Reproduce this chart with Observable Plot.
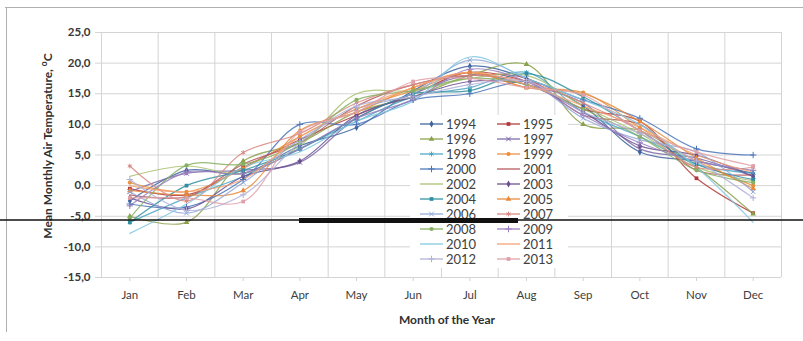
<!DOCTYPE html>
<html>
<head>
<meta charset="utf-8">
<script src="https://cdn.jsdelivr.net/npm/d3@7"></script>
<script src="https://cdn.jsdelivr.net/npm/@observablehq/plot@0.6"></script>
<style>
  html, body { margin: 0; padding: 0; background: #fff; }
  #wrap { position: relative; width: 803px; height: 341px; overflow: hidden; }
  #wrap svg { position: absolute; left: 0; top: 0; }
</style>
</head>
<body>
<div id="wrap"></div>
<script>
const months = ["Jan","Feb","Mar","Apr","May","Jun","Jul","Aug","Sep","Oct","Nov","Dec"];
const years = [1994,1995,1996,1997,1998,1999,2000,2001,2002,2003,2004,2005,2006,2007,2008,2009,2010,2011,2012,2013];
const yTicks = [-15,-10,-5,0,5,10,15,20,25];

const t1994 = [-2.5, 2.5, 2.0, 6.5, 9.5, 15.5, 19.5, 17.5, 13.0, 5.5, 4.0, 2.0];
const t1995 = [-0.5, -1.5, 3.0, 7.5, 11.5, 15.0, 18.5, 17.0, 12.5, 10.5, 1.2, -4.5];
const t1996 = [-5.0, -6.0, 4.0, 7.0, 12.0, 14.5, 18.0, 19.8, 10.0, 9.0, 3.0, -4.6];
const t1997 = [-1.0, 2.0, 2.5, 3.8, 11.0, 15.0, 18.0, 16.5, 13.5, 6.0, 4.5, 1.5];
const t1998 = [-6.0, -2.0, 1.5, 6.0, 10.5, 14.5, 16.0, 18.5, 12.0, 8.0, 3.5, 2.0];
const t1999 = [0.5, -1.0, 2.8, 8.0, 12.5, 15.5, 18.5, 16.0, 15.2, 9.5, 4.0, 0.0];
const t2000 = [-3.0, -3.5, 1.0, 10.0, 10.0, 14.0, 15.0, 17.0, 14.0, 11.0, 6.0, 5.0];
const t2001 = [-1.5, -1.8, 3.5, 7.0, 13.0, 16.5, 18.0, 17.5, 11.5, 10.0, 2.5, 1.8];
const t2002 = [1.5, 3.2, 2.0, 6.5, 15.0, 15.5, 17.5, 18.0, 13.0, 8.5, 3.0, 0.8];
const t2003 = [-2.0, -3.8, 1.5, 4.0, 11.5, 14.5, 17.0, 16.5, 12.0, 6.5, 5.0, 1.5];
const t2004 = [-6.0, 0.0, 2.5, 6.0, 11.0, 15.0, 15.5, 18.3, 14.5, 9.0, 3.5, 1.0];
const t2005 = [-0.8, -1.5, -0.8, 9.0, 12.0, 16.0, 18.5, 16.0, 15.0, 10.5, 4.5, -0.5];
const t2006 = [-1.0, -4.5, 0.5, 7.5, 12.5, 15.0, 20.5, 17.5, 11.0, 7.5, 5.5, -1.0];
const t2007 = [3.2, -2.5, 5.4, 8.5, 13.5, 16.5, 18.0, 17.0, 13.5, 9.0, 3.0, 3.0];
const t2008 = [-5.3, 3.3, 3.5, 7.0, 14.0, 15.5, 17.5, 16.5, 12.5, 8.0, 2.5, 0.5];
const t2009 = [-3.3, 2.2, 2.0, 6.0, 11.0, 14.0, 19.0, 17.0, 11.5, 7.0, 4.0, 2.5];
const t2010 = [-7.8, -3.0, 3.0, 5.5, 10.5, 13.8, 21.0, 17.5, 14.0, 10.0, 3.0, -6.0];
const t2011 = [0.0, -1.0, 1.0, 8.0, 12.5, 16.0, 18.5, 16.5, 13.0, 9.5, 5.0, 2.2];
const t2012 = [1.0, -4.0, -1.5, 7.0, 13.0, 14.5, 16.5, 17.0, 12.0, 8.5, 4.0, -2.0];
const t2013 = [-2.0, -2.0, -2.6, 8.8, 12.0, 17.0, 17.5, 16.0, 14.8, 9.0, 5.5, 3.2];

const seriesValues = [t1994,t1995,t1996,t1997,t1998,t1999,t2000,t2001,t2002,t2003,
                      t2004,t2005,t2006,t2007,t2008,t2009,t2010,t2011,t2012,t2013];

const colors = ["#3d63a0","#b03a3a","#8aa04a","#7b68a8","#4aa6c4","#e8903f","#4a74b8","#b5565a","#a8c070","#6a4f90",
                "#2f8fa0","#e88a3a","#8fa8d8","#d88880","#86b060","#9a80c0","#80c8e0","#f4a070","#b0b0d8","#e0a0a8"];
const symbols = ["diamond","square","triangle","times","asterisk","circle","plus",null,null,"diamond",
                 "square","triangle","times","asterisk","circle","plus",null,null,"plus","square"];
const strokeSyms = new Set(["times","asterisk","plus"]);

const fmt = d => d.toFixed(1).replace(".", ",");

const rows = [];
years.forEach((yr, s) => seriesValues[s].forEach((v, i) => rows.push({year: yr, s, m: i, v})));

const marks = [
  Plot.ruleY(yTicks, {stroke: "#d4d4d4", strokeWidth: 1}),
  Plot.ruleX(d3.range(13).map(i => i - 0.5), {stroke: "#d4d4d4", strokeWidth: 1}),
  Plot.axisY({ticks: yTicks, tickFormat: fmt, tickSize: 6, tickPadding: 5, stroke: "#d4d4d4",
              fill: "#383838", fontSize: 11.5, fontWeight: "bold", label: null}),
  Plot.axisX({ticks: d3.range(12), tickFormat: i => months[i], tickSize: 4, tickPadding: 9,
              stroke: "#d4d4d4", fill: "#404040", fontSize: 11.5, label: null})
];
years.forEach((yr, s) => {
  const data = rows.filter(r => r.s === s);
  marks.push(Plot.line(data, {x: "m", y: "v", stroke: colors[s], strokeWidth: 1.2, strokeOpacity: 0.85, curve: "catmull-rom"}));
});
years.forEach((yr, s) => {
  const sym = symbols[s];
  if (!sym) return;
  const data = rows.filter(r => r.s === s);
  if (strokeSyms.has(sym)) {
    marks.push(Plot.dot(data, {x: "m", y: "v", symbol: sym, r: 2.2, stroke: colors[s], strokeWidth: 1, fill: "none"}));
  } else {
    marks.push(Plot.dot(data, {x: "m", y: "v", symbol: sym, r: 2.1, fill: colors[s], stroke: "none"}));
  }
});

const chart = Plot.plot({
  width: 803, height: 341,
  marginLeft: 101, marginRight: 22, marginTop: 32, marginBottom: 64,
  style: {fontFamily: "Lato, 'Open Sans', sans-serif", background: "transparent"},
  x: {domain: [-0.5, 11.5], axis: null},
  y: {domain: [-15, 25], axis: null},
  marks
});
document.getElementById("wrap").appendChild(chart);

// overlay: frame, titles, legend
const ov = d3.select("#wrap").append("svg")
  .attr("width", 803).attr("height", 341)
  .style("font-family", "Lato, 'Open Sans', sans-serif");

ov.append("line").attr("x1", 5).attr("x2", 803).attr("y1", 7.5).attr("y2", 7.5).attr("stroke", "#b0b0b0");
ov.append("line").attr("x1", 6.5).attr("x2", 6.5).attr("y1", 7).attr("y2", 332).attr("stroke", "#b0b0b0");

const yt = ov.append("text")
  .attr("transform", "translate(52,146) rotate(-90)")
  .attr("text-anchor", "middle").attr("font-weight", "bold").attr("font-size", 12).attr("fill", "#303030");
yt.append("tspan").text("Mean Monthly Air Temperature, ");
yt.append("tspan").attr("dy", -5).attr("font-size", 8.5).text("o");
yt.append("tspan").attr("dy", 5).text("C");

ov.append("text").attr("x", 447).attr("y", 324).attr("text-anchor", "middle")
  .attr("font-weight", "bold").attr("font-size", 12).attr("fill", "#303030").text("Month of the Year");

// legend
const lg = ov.append("g");
lg.append("rect").attr("x", 410).attr("y", 115).attr("width", 158).attr("height", 153).attr("fill", "#fff");
const d3sym = {diamond: d3.symbolDiamond, square: d3.symbolSquare, triangle: d3.symbolTriangle,
  times: d3.symbolTimes, asterisk: d3.symbolAsterisk, circle: d3.symbolCircle, plus: d3.symbolPlus};
years.forEach((yr, s) => {
  const col = s % 2, row = Math.floor(s / 2);
  const x0 = col === 0 ? 420 : 497, y0 = 124 + row * 15;
  lg.append("line").attr("x1", x0).attr("x2", x0 + 23).attr("y1", y0).attr("y2", y0)
    .attr("stroke", colors[s]).attr("stroke-width", 1.4).attr("stroke-opacity", 0.9);
  const sym = symbols[s];
  if (sym) {
    const isStroke = strokeSyms.has(sym);
    lg.append("path").attr("transform", `translate(${x0 + 11.5},${y0})`)
      .attr("d", d3.symbol(d3sym[sym], isStroke ? 16 : 14)())
      .attr("fill", isStroke ? "none" : colors[s])
      .attr("stroke", isStroke ? colors[s] : "none").attr("stroke-width", 1);
  }
  lg.append("text").attr("x", x0 + 26).attr("y", y0).attr("dy", "0.35em")
    .attr("font-size", 13).attr("fill", "#404040").text(yr);
});

// scan artifacts visible in the reference
ov.append("line").attr("x1", 0).attr("x2", 803).attr("y1", 220).attr("y2", 220).attr("stroke", "#111").attr("stroke-width", 1.5);
ov.append("rect").attr("x", 299).attr("y", 218).attr("width", 219).attr("height", 5).attr("fill", "#111");
</script>
</body>
</html>
